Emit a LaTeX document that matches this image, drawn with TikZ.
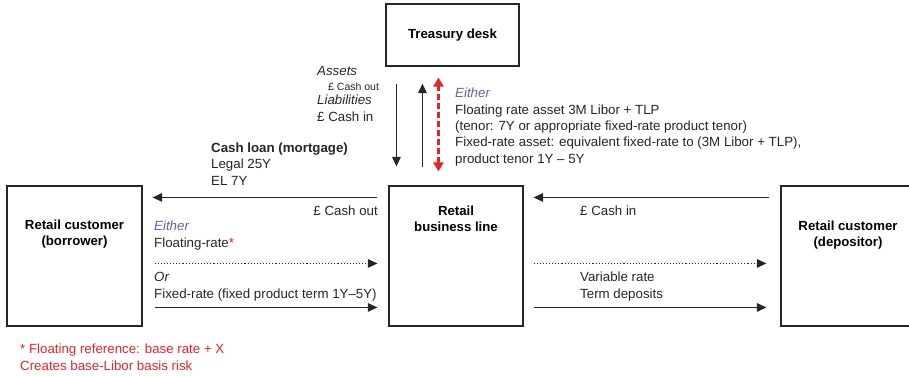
\documentclass[tikz,border=0pt]{standalone}
\usepackage{fontspec}
\setmainfont{Liberation Sans}
\usepackage{xcolor}
\usetikzlibrary{arrows.meta,positioning,calc}

\definecolor{fnred}{RGB}{235,35,40}
\definecolor{eitherpurple}{RGB}{110,95,155}

\begin{document}
\begin{tikzpicture}[
    x=1pt, y=-1pt,
    box/.style={rectangle, draw=black!85, line width=1.1pt, inner sep=0pt},
    boxlbl/.style={font=\fontsize{13.2}{15.5}\selectfont\bfseries, align=center, inner sep=0pt},
    txt/.style={font=\fontsize{13.3}{16.3}\selectfont, align=left, inner sep=0pt, text=black!85},
    arr/.style={-{Triangle[length=9.5pt,width=8.5pt]}, line width=1.1pt, color=black!85},
    dotarr/.style={arr, dotted},
    redarr/.style={{Triangle[length=9pt,width=10pt]}-{Triangle[length=9pt,width=10pt]}, line width=2.6pt, color=fnred, dash pattern=on 6pt off 3pt}
]
    \useasboundingbox (0,0) rectangle (909,375);

    % Boxes
    \node[box, minimum width=133pt, minimum height=62pt, font=\fontsize{13.2}{15.5}\selectfont\bfseries] (treasury) at (452.5,35) {Treasury desk};
    \node[box, minimum width=135pt, minimum height=140pt] (borrower) at (74.5,256) {};
    \node[box, minimum width=134pt, minimum height=140pt] (business) at (456,256) {};
    \node[box, minimum width=134pt, minimum height=140pt] (depositor) at (848,256) {};

    % Box labels (base = last line)
    \node[boxlbl, anchor=base] (borrowerlbl) at ([yshift=-60pt]borrower.north) {Retail customer\\(borrower)};
    \node[boxlbl, anchor=base] (businesslbl) at ([yshift=-46pt]business.north) {Retail\\business line};
    \node[boxlbl, anchor=base] (depositorlbl) at ([yshift=-61pt]depositor.north) {Retail customer\\(depositor)};

    % Treasury flows
    \draw[arr] ([xshift=11pt,yshift=-17pt]treasury.south west) -- ([xshift=8pt,yshift=19pt]business.north west);
    \draw[arr] ([xshift=34pt,yshift=18pt]business.north west) -- ([xshift=37pt,yshift=-17pt]treasury.south west);
    \draw[redarr] ([xshift=50pt,yshift=14pt]business.north west) -- ([xshift=53pt,yshift=-11pt]treasury.south west);

    \node[txt, anchor=base west] (assets) at (317,75) {\textit{Assets}};
    \node[txt, anchor=base west, font=\fontsize{10.5}{12}\selectfont] (assetcash) at (328,90) {£ Cash out};
    \node[txt, anchor=base west] (liab) at (317,121) {\textit{Liabilities}\\£ Cash in};

    \node[txt, anchor=base west] (eitherR) at (455,163) {\textcolor{eitherpurple}{\textit{Either}}\\
        Floating rate asset 3M Libor + TLP\\
        (tenor: 7Y or appropriate fixed-rate product tenor)\\
        Fixed-rate asset: equivalent fixed-rate to (3M Libor + TLP),\\
        product tenor 1Y -- 5Y};

    \node[txt, anchor=base west] (loan) at (211,185) {\textbf{Cash loan (mortgage)}\\Legal 25Y\\EL 7Y};

    % Borrower side
    \draw[arr] ([xshift=-11pt,yshift=-12pt]business.north west) -- ([xshift=10pt,yshift=-12pt]borrower.north east);
    \draw[dotarr] ([xshift=12pt,yshift=-78pt]borrower.north east) -- ([xshift=-11pt,yshift=-78pt]business.north west);
    \draw[arr] ([xshift=12pt,yshift=-122pt]borrower.north east) -- ([xshift=-11pt,yshift=-122pt]business.north west);

    \node[txt, anchor=base east] (cashout) at (378,215) {£ Cash out};
    \node[txt, anchor=base west] (eitherL) at (154,247) {\textcolor{eitherpurple}{\textit{Either}}\\Floating-rate\textcolor{fnred}{*}};
    \node[txt, anchor=base west] (orL) at (154,298) {\textit{Or}\\Fixed-rate (fixed product term 1Y--5Y)};

    % Depositor side
    \draw[arr] ([xshift=-11pt,yshift=-12pt]depositor.north west) -- ([xshift=10pt,yshift=-12pt]business.north east);
    \draw[dotarr] ([xshift=10pt,yshift=-78pt]business.north east) -- ([xshift=-14pt,yshift=-78pt]depositor.north west);
    \draw[arr] ([xshift=10pt,yshift=-122pt]business.north east) -- ([xshift=-14pt,yshift=-122pt]depositor.north west);

    \node[txt, anchor=base west] (cashin) at (580,215) {£ Cash in};
    \node[txt, anchor=base west] (deposits) at (580,298) {Variable rate\\Term deposits};

    % Footnote
    \node[txt, anchor=base west, text=fnred] (footnote) at (20,370) {* Floating reference: base rate + X\\Creates base-Libor basis risk};

\end{tikzpicture}
\end{document}
